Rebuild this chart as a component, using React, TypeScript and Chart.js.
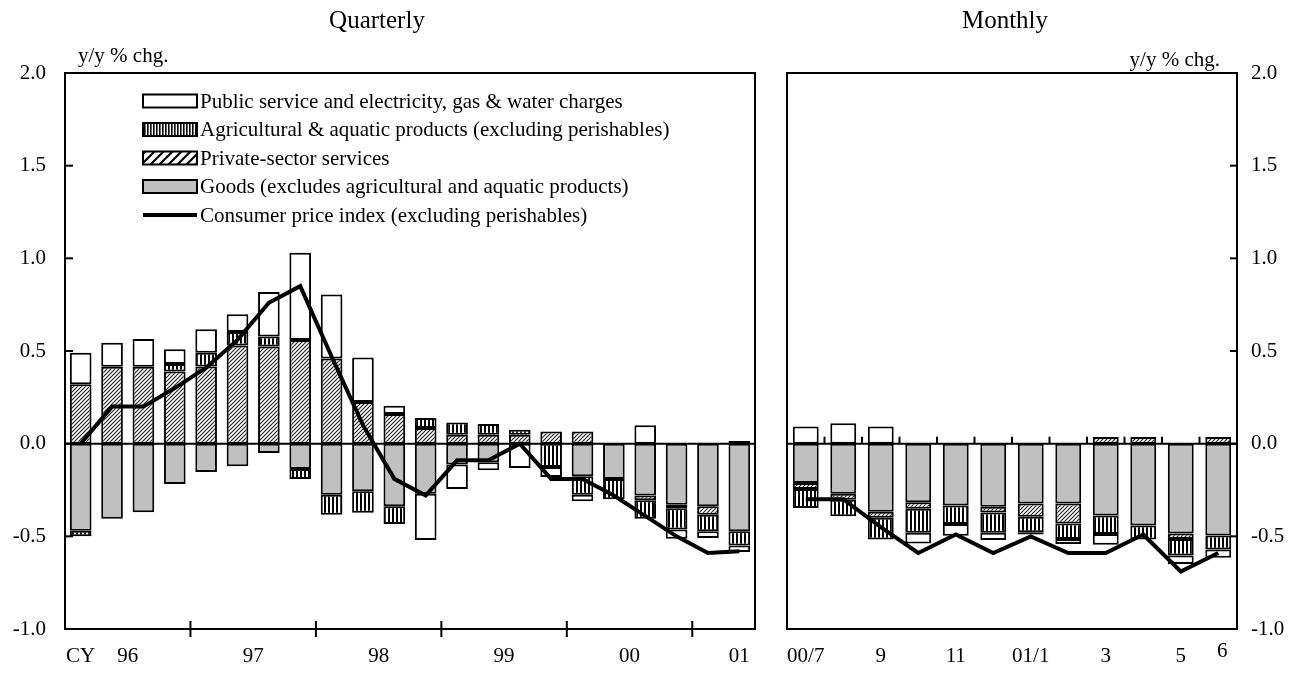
import React, { useEffect, useRef } from "react";
import { Chart, registerables } from "chart.js";
Chart.register(...registerables);

const FONT = '"Liberation Serif", "Times New Roman", serif';

// ---------- Quarterly data (96Q1 .. 01Q2) ----------
const quarterLabels = [
  "96Q1", "96Q2", "96Q3", "96Q4", "97Q1", "97Q2", "97Q3", "97Q4",
  "98Q1", "98Q2", "98Q3", "98Q4", "99Q1", "99Q2", "99Q3", "99Q4",
  "00Q1", "00Q2", "00Q3", "00Q4", "01Q1", "01Q2",
];
const qGoods = [-0.47, -0.405, -0.37, -0.217, -0.153, -0.122, -0.05, -0.137, -0.275, -0.257, -0.338, -0.27, -0.113, -0.1, 0, 0, -0.176, -0.19, -0.28, -0.33, -0.338, -0.472];
const qPrivate = [0.32, 0.415, 0.415, 0.39, 0.417, 0.53, 0.524, 0.56, 0.46, 0.225, 0.16, 0.085, 0.048, 0.048, 0.048, 0.066, 0.066, 0, -0.025, -0.018, -0.045, 0.015];
const qAgri = [-0.03, 0, 0, 0.04, 0.073, 0.073, 0.054, -0.053, -0.108, -0.116, -0.095, 0.053, 0.066, 0.058, 0.027, -0.126, -0.1, -0.11, -0.1, -0.115, -0.09, -0.078];
const qPublic = [0.17, 0.13, 0.15, 0.08, 0.128, 0.095, 0.24, 0.47, 0.345, 0.24, 0.045, -0.25, -0.131, -0.044, -0.131, -0.054, -0.035, 0, 0.1, -0.05, -0.036, -0.035];
const qCPI = [0.0, 0.2, 0.2, 0.3, 0.41, 0.56, 0.76, 0.85, 0.47, 0.1, -0.19, -0.28, -0.09, -0.09, 0.0, -0.19, -0.19, -0.28, -0.39, -0.5, -0.59, -0.58];

const yearLabels = ["CY", "96", "97", "98", "99", "00", "01"];
const yearLabelIndex = [0, 1.5, 5.5, 9.5, 13.5, 17.5, 21];
const yearBoundaryIndex = [3.5, 7.5, 11.5, 15.5, 19.5];

// ---------- Monthly data (00/7 .. 01/6) ----------
const monthLabels = ["00/7", "8", "9", "10", "11", "12", "01/1", "2", "3", "4", "5", "6"];
const monthShownLabels = ["00/7", "", "9", "", "11", "", "01/1", "", "3", "", "5", "6"];
const mGoods = [-0.212, -0.27, -0.368, -0.316, -0.334, -0.34, -0.323, -0.323, -0.388, -0.442, -0.485, -0.496];
const mPrivate = [-0.032, -0.032, -0.032, -0.035, 0, -0.032, -0.072, -0.108, 0.036, 0.036, -0.029, 0.036];
const mAgri = [-0.103, -0.09, -0.117, -0.13, -0.1, -0.108, -0.083, -0.083, -0.1, -0.075, -0.09, -0.075];
const mPublic = [0.093, 0.11, 0.093, -0.058, -0.063, -0.04, -0.012, -0.027, -0.057, 0, -0.045, -0.045];
const mCPI = [-0.3, -0.3, -0.45, -0.59, -0.49, -0.59, -0.5, -0.59, -0.59, -0.49, -0.69, -0.59];

const yTicks = [-1, -0.5, 0, 0.5, 1, 1.5, 2];

const legendItems = [
  { label: "Public service and electricity, gas & water charges", kind: "public" },
  { label: "Agricultural & aquatic products (excluding perishables)", kind: "agri" },
  { label: "Private-sector services", kind: "private" },
  { label: "Goods (excludes agricultural and aquatic products)", kind: "goods" },
  { label: "Consumer price index (excluding perishables)", kind: "cpi" },
];

const AXIS_FONT = 21;
const LEGEND_FONT = 21;
const TITLE_FONT = 25;

function makeDiag(size: number, lw: number, color: string): CanvasPattern {
  const c = document.createElement("canvas");
  c.width = size;
  c.height = size;
  const g = c.getContext("2d")!;
  g.fillStyle = "#fff";
  g.fillRect(0, 0, size, size);
  g.strokeStyle = color;
  g.lineWidth = lw;
  g.beginPath();
  g.moveTo(-1, size + 1);
  g.lineTo(size + 1, -1);
  g.moveTo(-size / 2 - 1, size / 2 + 1);
  g.lineTo(size / 2 + 1, -size / 2 - 1);
  g.moveTo(size / 2 - 1, size * 1.5 + 1);
  g.lineTo(size * 1.5 + 1, size / 2 - 1);
  g.stroke();
  return g.createPattern(c, "repeat")!;
}

function makeStripes(period: number, black: number): CanvasPattern {
  const c = document.createElement("canvas");
  c.width = period;
  c.height = 2;
  const g = c.getContext("2d")!;
  g.fillStyle = "#fff";
  g.fillRect(0, 0, period, 2);
  g.fillStyle = "#000";
  g.fillRect(0, 0, black, 2);
  return g.createPattern(c, "repeat")!;
}

const GRAY = "#c0c0c0";

function nz(arr: number[]) {
  return arr.map((v) => (v === 0 ? null : v));
}

function buildDatasets(goods: number[], priv: number[], agri: number[], pub: number[], cpi: number[], pats: any) {
  const common = {
    borderColor: "#000",
    borderWidth: 2,
    borderSkipped: false as any,
    barPercentage: 0.69,
    categoryPercentage: 1,
    stack: "s",
    order: 1,
  };
  return [
    { type: "bar", label: "Goods", data: nz(goods), backgroundColor: GRAY, ...common },
    { type: "bar", label: "Private-sector services", data: nz(priv), backgroundColor: pats.diag, ...common },
    { type: "bar", label: "Agricultural", data: nz(agri), backgroundColor: pats.stripes, ...common },
    { type: "bar", label: "Public", data: nz(pub), backgroundColor: "#fff", ...common },
    {
      type: "line",
      label: "CPI",
      data: cpi,
      borderColor: "#000",
      borderWidth: 4,
      pointRadius: 0,
      tension: 0,
      fill: false,
      order: 0,
      stack: "cpi",
    },
  ];
}

function yScale(position: "left" | "right", width: number, padding: number) {
  return {
    type: "linear",
    position,
    min: -1,
    max: 2,
    stacked: true,
    afterBuildTicks: (s: any) => {
      s.ticks = yTicks.map((v) => ({ value: v }));
    },
    afterFit: (s: any) => {
      s.width = width;
    },
    grid: { display: false, drawTicks: false },
    border: { display: false },
    ticks: {
      color: "#000",
      padding,
      font: { family: FONT, size: AXIS_FONT },
      callback: (v: any) => Number(v).toFixed(1),
    },
  };
}

function xScale(height: number) {
  return {
    type: "category",
    stacked: true,
    offset: true,
    afterFit: (s: any) => {
      s.height = height;
    },
    grid: { display: false, drawTicks: false },
    border: { display: false },
    ticks: { display: false },
  };
}

function drawFrame(ctx: CanvasRenderingContext2D, a: any) {
  ctx.save();
  ctx.strokeStyle = "#000";
  ctx.lineWidth = 2;
  ctx.strokeRect(a.left, a.top, a.right - a.left, a.bottom - a.top);
  ctx.restore();
}

function zeroLine(chart: any) {
  const { ctx, chartArea: a, scales } = chart;
  const y0 = scales.y.getPixelForValue(0);
  ctx.save();
  ctx.strokeStyle = "#000";
  ctx.lineWidth = 2;
  ctx.beginPath();
  ctx.moveTo(a.left, y0);
  ctx.lineTo(a.right, y0);
  ctx.stroke();
  ctx.restore();
}

export default function App() {
  const leftRef = useRef<HTMLCanvasElement>(null);
  const rightRef = useRef<HTMLCanvasElement>(null);

  useEffect(() => {
    const pats = {
      diag: makeDiag(4, 1.1, "#222"),
      stripes: makeStripes(4, 2),
      legendDiag: makeDiag(9, 2.2, "#000"),
      legendStripes: makeStripes(3, 1.6),
    };

    const leftPlugin = {
      id: "leftDecor",
      beforeDatasetsDraw: (chart: any) => zeroLine(chart),
      afterDraw: (chart: any) => {
        const { ctx, chartArea: a, scales } = chart;
        const x = scales.x;
        const y = scales.y;
        drawFrame(ctx, a);
        ctx.save();
        ctx.strokeStyle = "#000";
        ctx.lineWidth = 2;
        yTicks.forEach((v) => {
          const py = y.getPixelForValue(v);
          ctx.beginPath();
          ctx.moveTo(a.left, py);
          ctx.lineTo(a.left + 8, py);
          ctx.stroke();
        });
        yearBoundaryIndex.forEach((i) => {
          const px = x.getPixelForValue(i);
          ctx.beginPath();
          ctx.moveTo(px, a.bottom - 8);
          ctx.lineTo(px, a.bottom + 8);
          ctx.stroke();
        });
        ctx.fillStyle = "#000";
        ctx.font = `${AXIS_FONT}px ${FONT}`;
        ctx.textAlign = "center";
        ctx.textBaseline = "middle";
        yearLabels.forEach((lab, k) => {
          ctx.fillText(lab, x.getPixelForValue(yearLabelIndex[k]), 656);
        });
        ctx.font = `${LEGEND_FONT}px ${FONT}`;
        ctx.textAlign = "left";
        ctx.fillText("y/y % chg.", 78, 56);
        ctx.font = `${TITLE_FONT}px ${FONT}`;
        ctx.textAlign = "center";
        ctx.fillText("Quarterly", 377, 21);
        ctx.font = `${LEGEND_FONT}px ${FONT}`;
        ctx.textAlign = "left";
        const bx = 143;
        const bw = 54;
        const bh = 13;
        legendItems.forEach((it, k) => {
          const cy = 101 + k * 28.5;
          if (it.kind === "cpi") {
            ctx.lineWidth = 4;
            ctx.beginPath();
            ctx.moveTo(bx, cy);
            ctx.lineTo(bx + bw, cy);
            ctx.stroke();
          } else {
            ctx.fillStyle =
              it.kind === "public" ? "#fff" : it.kind === "goods" ? GRAY : it.kind === "agri" ? pats.legendStripes : pats.legendDiag;
            ctx.fillRect(bx, cy - bh / 2, bw, bh);
            ctx.lineWidth = 2;
            ctx.strokeRect(bx, cy - bh / 2, bw, bh);
          }
          ctx.fillStyle = "#000";
          ctx.fillText(it.label, bx + bw + 3, cy + 1);
        });
        ctx.restore();
      },
    };

    const rightPlugin = {
      id: "rightDecor",
      beforeDatasetsDraw: (chart: any) => zeroLine(chart),
      afterDraw: (chart: any) => {
        const { ctx, chartArea: a, scales } = chart;
        const x = scales.x;
        const y = scales.y;
        drawFrame(ctx, a);
        ctx.save();
        ctx.strokeStyle = "#000";
        ctx.lineWidth = 2;
        yTicks.forEach((v) => {
          const py = y.getPixelForValue(v);
          ctx.beginPath();
          ctx.moveTo(a.right, py);
          ctx.lineTo(a.right - 7, py);
          ctx.stroke();
        });
        const y0 = y.getPixelForValue(0);
        for (let i = 0; i < monthLabels.length - 1; i++) {
          const px = x.getPixelForValue(i + 0.5);
          ctx.beginPath();
          ctx.moveTo(px, y0);
          ctx.lineTo(px, y0 - 7);
          ctx.stroke();
        }
        ctx.fillStyle = "#000";
        ctx.font = `${AXIS_FONT}px ${FONT}`;
        ctx.textAlign = "center";
        ctx.textBaseline = "middle";
        monthShownLabels.forEach((lab, i) => {
          if (!lab) return;
          const isLast = i === monthShownLabels.length - 1;
          ctx.fillText(lab, x.getPixelForValue(i) + (isLast ? 4 : 0), isLast ? 651 : 656);
        });
        ctx.font = `${LEGEND_FONT}px ${FONT}`;
        ctx.textAlign = "right";
        ctx.fillText("y/y % chg.", 450, 60);
        ctx.font = `${TITLE_FONT}px ${FONT}`;
        ctx.textAlign = "center";
        ctx.fillText("Monthly", 235, 21);
        ctx.restore();
      },
    };

    const left = new Chart(leftRef.current!, {
      type: "bar",
      data: {
        labels: quarterLabels,
        datasets: buildDatasets(qGoods, qPrivate, qAgri, qPublic, qCPI, pats) as any,
      },
      options: {
        responsive: false,
        animation: false,
        events: [],
        layout: { padding: { top: 73, right: 15, left: 0, bottom: 0 } },
        plugins: { legend: { display: false }, tooltip: { enabled: false }, title: { display: false } },
        scales: { x: xScale(44), y: yScale("left", 65, 19) } as any,
      },
      plugins: [leftPlugin],
    });

    const right = new Chart(rightRef.current!, {
      type: "bar",
      data: {
        labels: monthLabels,
        datasets: buildDatasets(mGoods, mPrivate, mAgri, mPublic, mCPI, pats) as any,
      },
      options: {
        responsive: false,
        animation: false,
        events: [],
        layout: { padding: { top: 73, right: 0, left: 17, bottom: 0 } },
        plugins: { legend: { display: false }, tooltip: { enabled: false }, title: { display: false } },
        scales: { x: xScale(44), y: yScale("right", 59, 14) } as any,
      },
      plugins: [rightPlugin],
    });

    return () => {
      left.destroy();
      right.destroy();
    };
  }, []);

  return (
    <div style={{ position: "absolute", left: 0, top: 0, width: 1296, height: 673, background: "#fff" }}>
      <canvas ref={leftRef} width={770} height={673} style={{ position: "absolute", left: 0, top: 0 }} />
      <canvas ref={rightRef} width={526} height={673} style={{ position: "absolute", left: 770, top: 0 }} />
    </div>
  );
}
